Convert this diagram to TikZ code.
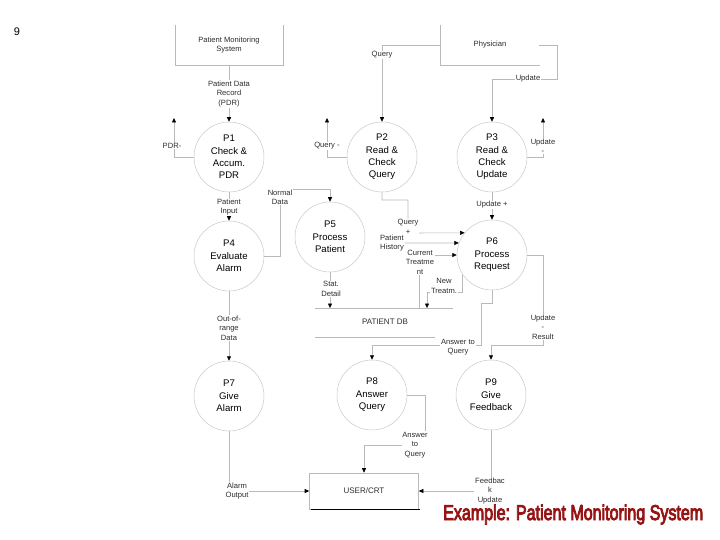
\documentclass[tikz,border=0pt]{standalone}
\usepackage{fontspec}
\usepackage{graphicx}
\setmainfont{Liberation Sans}
\newfontfamily\ttlfont[FakeBold=4.5]{Liberation Sans}
\usetikzlibrary{arrows.meta}
\definecolor{linegray}{RGB}{185,185,185}
\definecolor{circgray}{RGB}{200,200,200}
\definecolor{txt}{RGB}{45,45,45}
\definecolor{titlered}{RGB}{150,20,20}
\newcommand{\ttltext}{\resizebox{260pt}{15.5pt}{\ttlfont Example: Patient Monitoring System}}
\begin{document}
\begin{tikzpicture}[x=1pt,y=-1pt,
  ln/.style={draw=linegray,line width=0.6pt},
  flow/.style={ln,-{Triangle[length=4.5pt,width=4pt,color=black]}},
  lbl/.style={fill=white,inner sep=0.8pt,align=center,font=\fontsize{7.6}{9.4}\selectfont,text=txt},
  proc/.style={circle,draw=circgray,line width=0.5pt,minimum size=70pt,inner sep=0pt,align=center,font=\fontsize{9.6}{12.4}\selectfont},
  ext/.style={align=center,font=\fontsize{7.6}{9.6}\selectfont,text=txt},
]
\useasboundingbox (0,0) rectangle (720,540);
\fill[white] (0,0) rectangle (720,540);

\node[font=\fontsize{11}{13}\selectfont] (pg) at (17,32) {9};

% external entities
\draw[ln] (175,25) -- (175,65) -- (283,65) -- (283,25);
\node[ext] (pms) at (229,45) {Patient Monitoring\\System};
\coordinate (pmsb) at (229,65);
\draw[ln] (440,25) -- (440,65) -- (540,65);
\node[ext] (phy) at (490,45) {Physician};
\coordinate (phyl) at (440,45);
\coordinate (phyr) at (539,45);

% processes
\node[proc] (p1) at (229,157) {P1\\Check \&\\Accum.\\PDR};
\node[proc] (p2) at (382,157) {P2\\Read \&\\Check\\Query};
\node[proc] (p3) at (492,157) {P3\\Read \&\\Check\\Update};
\node[proc] (p4) at (229,256) {P4\\Evaluate\\Alarm};
\node[proc] (p5) at (330,237) {P5\\Process\\Patient};
\node[proc] (p6) at (492,255) {P6\\Process\\Request};
\node[proc] (p7) at (229,396) {P7\\Give\\Alarm};
\node[proc] (p8) at (372,395) {P8\\Answer\\Query};
\node[proc] (p9) at (491,395) {P9\\Give\\Feedback};

% data store
\coordinate (dbtl) at (315,308);
\coordinate (dbtr) at (453,308);
\coordinate (dbbl) at (315,337);
\coordinate (dbbr) at (435,337);
\draw[ln] (dbtl) -- (dbtr);
\draw[ln] (dbbl) -- (dbbr);
\node[ext,font=\fontsize{8}{9.6}\selectfont] (db) at (385,322) {PATIENT DB};
\coordinate (ctsrc) at (419,308);
\coordinate (ntdst) at (427,308);

% user
\node[draw=linegray,line width=0.6pt,minimum width=109pt,minimum height=36pt,font=\fontsize{8}{9.6}\selectfont,text=txt] (user) at (364,491) {USER/CRT};
\draw[line width=1.6pt] ([xshift=2pt]user.south west) -- ([xshift=1pt]user.south east);

% free ends
\coordinate (pdrout) at (174,118);
\coordinate (qout) at (327,118);
\coordinate (uout) at (543,118);

% flows
\draw[flow] (pmsb) -- (p1.north);
\draw[flow] (phyl) -| (p2.north);
\draw[flow] (phyr) -- (557,45) -- (557,79) -| (p3.north);
\draw[flow] (p1.west) -| (pdrout);
\draw[flow] (p2.west) -| (qout);
\draw[flow] (p3.east) -| (uout);
\draw[flow] (p1.south) -- (p4.north);
\draw[flow] (p4.east) -| (280,189) -| (p5.north);
\draw[flow] (p5.south) -- (p5.south |- dbtl);
\draw[flow] (p3.south) -- (p6.north);
\draw[flow] (p2.south) -- (382,200) -- (408,200) -- (408,233) -- (p6.141);
\node[lbl] (ph) at (392,243) {Patient\\History};
\draw[flow] (ph.east) -- (p6.160);
\draw[flow] (ctsrc) -- (419,255) -- (p6.west);
\draw[flow] (p6.214) |- (427,292) -- (ntdst);
\draw[flow] (p6.east) -| (543,345) -| (p9.north);
\draw[flow] (p6.south) -- (492,303) -| (481,345) -| (p8.north);
\draw[flow] (p4.south) -- (p7.north);
\draw[flow] (p8.east) -| (425,445) -| (user.north);
\draw[flow] (p7.south) |- (user.west);
\draw[flow] (p9.south) |- (user.east);

% labels
\node[lbl] (l1) at (229,94) {Patient Data\\Record\\(PDR)};
\node[lbl] (l2) at (382,55) {Query};
\node[lbl] (l3) at (528,79) {Update};
\node[lbl] (l4) at (172,146) {PDR-};
\node[lbl] (l5) at (327,146) {Query -};
\node[lbl] (l6) at (543,146) {Update\\-};
\node[lbl] (l7) at (229,207) {Patient\\Input};
\node[lbl] (l8) at (280,197) {Normal\\Data};
\node[lbl] (l9) at (492,205) {Update +};
\node[lbl] (l10) at (408,227) {Query\\+};
\node[lbl] (l11) at (420,262) {Current\\Treatme\\nt};
\node[lbl] (l12) at (444,286) {New\\Treatm.};
\node[lbl] (l13) at (331,289) {Stat.\\Detail};
\node[lbl] (l14) at (543,327) {Update\\-\\Result};
\node[lbl] (l15) at (458,347) {Answer to\\Query};
\node[lbl] (l16) at (229,328) {Out-of-\\range\\Data};
\node[lbl] (l17) at (415,445) {Answer\\to\\Query};
\node[lbl] (l18) at (237,491) {Alarm\\Output};
\node[lbl] (l19) at (490,491) {Feedbac\\k\\Update};

% title
\node[anchor=base west,inner sep=0pt,text=titlered] (title) at (443,520) {\ttltext};
\end{tikzpicture}
\end{document}
